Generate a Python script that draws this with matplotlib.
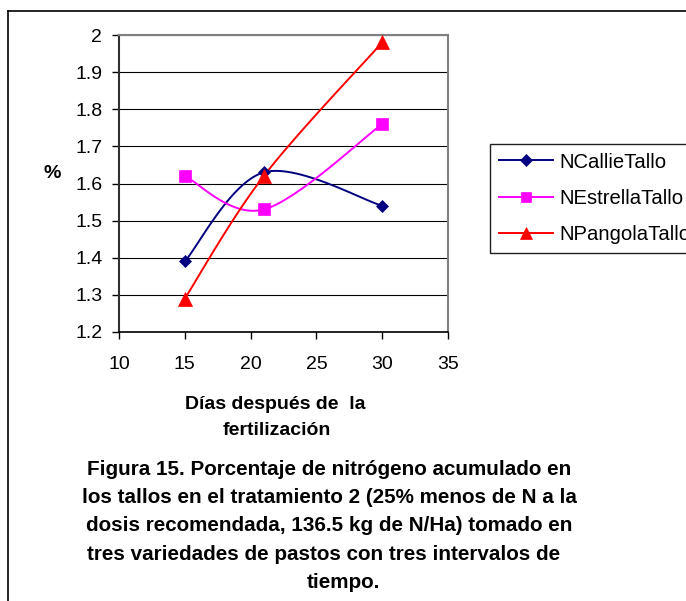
import numpy as np
import matplotlib
matplotlib.use("Agg")
import matplotlib.pyplot as plt
from matplotlib.lines import Line2D

plt.rcParams['font.family'] = ['Liberation Sans', 'DejaVu Sans']

# ---------------- data ----------------
days = [15, 21, 30]
callie = [1.39, 1.63, 1.54]
estrella = [1.62, 1.53, 1.76]
pangola = [1.29, 1.62, 1.98]
series_names = ["NCallieTallo", "NEstrellaTallo", "NPangolaTallo"]
xticks = [10, 15, 20, 25, 30, 35]
yticks = [1.2, 1.3, 1.4, 1.5, 1.6, 1.7, 1.8, 1.9, 2.0]
ytick_labels = ["1.2", "1.3", "1.4", "1.5", "1.6", "1.7", "1.8", "1.9", "2"]
xlabel_lines = ["Días después de  la", "fertilización"]
caption_lines = [
    "Figura 15. Porcentaje de nitrógeno acumulado en",
    "los tallos en el tratamiento 2 (25% menos de N a la",
    " dosis recomendada, 136.5 kg de N/Ha) tomado en",
    "tres variedades de pastos con tres intervalos de ",
    "tiempo.",
]

W, H = 686, 601
fig = plt.figure(figsize=(W / 100, H / 100), dpi=100)


def fx(x):
    return x / W


def fy(y):
    return 1 - y / H


ax = fig.add_axes([fx(119), fy(332), (448 - 119) / W, (332 - 35) / H])


def smooth(x, y, n=60):
    pts = np.column_stack([x, y]).astype(float)
    out = []
    for i in range(len(pts) - 1):
        p0 = pts[i - 1] if i > 0 else pts[i]
        p1 = pts[i]
        p2 = pts[i + 1]
        p3 = pts[i + 2] if i + 2 < len(pts) else pts[i + 1]
        c1 = p1 + (p2 - p0) / 6
        c2 = p2 - (p3 - p1) / 6
        t = np.linspace(0, 1, n)[:, None]
        seg = (1 - t) ** 3 * p1 + 3 * (1 - t) ** 2 * t * c1 + 3 * (1 - t) * t ** 2 * c2 + t ** 3 * p2
        out.append(seg if i == 0 else seg[1:])
    s = np.vstack(out)
    return s[:, 0], s[:, 1]


styles = [
    dict(color="#000080", marker="D", ms=6.3),
    dict(color="#FF00FF", marker="s", ms=8),
    dict(color="#FF0000", marker="^", ms=9.5),
]
handles = []
for vals, name, st in zip([callie, estrella, pangola], series_names, styles):
    sx, sy = smooth(days, vals)
    ax.plot(sx, sy, color=st["color"], lw=1.4, zorder=3, clip_on=False)
    ax.plot(days, vals, linestyle="none", marker=st["marker"], ms=st["ms"],
            color=st["color"], mec=st["color"], mew=0.5, zorder=4, clip_on=False)
    handles.append(Line2D([], [], color=st["color"], lw=1.4, marker=st["marker"],
                          ms=st["ms"] * 0.95, mec=st["color"], mew=0.5))

ax.set_xlim(10, 35)
ax.set_ylim(1.2, 2.0)
ax.set_xticks(xticks)
ax.set_xticklabels([str(v) for v in xticks])
ax.set_yticks(yticks)
ax.set_yticklabels(ytick_labels)
ax.yaxis.grid(True, color="black", lw=0.8)
ax.set_axisbelow(True)
ax.tick_params(axis="both", direction="out", length=5, width=1, color="black", labelsize=14)
ax.tick_params(axis="x", pad=12)
ax.tick_params(axis="y", pad=7)
for side in ["top", "right"]:
    ax.spines[side].set_color("#808080")
    ax.spines[side].set_linewidth(1.5)
ax.spines["left"].set_color("#303030")
ax.spines["left"].set_linewidth(1.5)
ax.spines["bottom"].set_color("black")
ax.spines["bottom"].set_linewidth(1.2)

# y label
fig.text(fx(52), fy(173), "%", fontsize=14, fontweight="bold", ha="center", va="center")

# x label lines
fig.text(fx(275), fy(409), xlabel_lines[0], fontsize=14, fontweight="bold", ha="center", va="baseline")
fig.text(fx(277), fy(435), xlabel_lines[1], fontsize=14, fontweight="bold", ha="center", va="baseline")

# caption - fit size to measured width of first line
renderer = fig.canvas.get_renderer()
probe = fig.text(0, 0, caption_lines[0], fontsize=14, fontweight="bold")
w = probe.get_window_extent(renderer).width
probe.remove()
cap_size = 14 * 486 / w
cap_centers = [329, 329, 329.5, 323.5, 343.5]
cap_base = [475, 503, 531, 560, 588]
for line, cx, by in zip(caption_lines, cap_centers, cap_base):
    fig.text(fx(cx), fy(by), line.strip(), fontsize=cap_size, fontweight="bold",
             ha="center", va="baseline")

# legend
leg = ax.legend(handles, series_names, loc="upper left",
                bbox_to_anchor=(fx(490), fy(144)), bbox_transform=fig.transFigure,
                borderaxespad=0, fontsize=14.6, handlelength=2.7, handletextpad=0.3,
                labelspacing=0.85, borderpad=0.42, frameon=True, fancybox=False,
                framealpha=1, edgecolor="#202020")
leg.get_frame().set_linewidth(1.0)

# outer frame (left and top edges)
fig.add_artist(Line2D([fx(7.5), fx(7.5)], [fy(11), 0], transform=fig.transFigure,
                      color="black", lw=1.2))
fig.add_artist(Line2D([fx(7.5), 1.0], [fy(11), fy(11)], transform=fig.transFigure,
                      color="black", lw=1.2))

fig.savefig("out.png", dpi=100)
